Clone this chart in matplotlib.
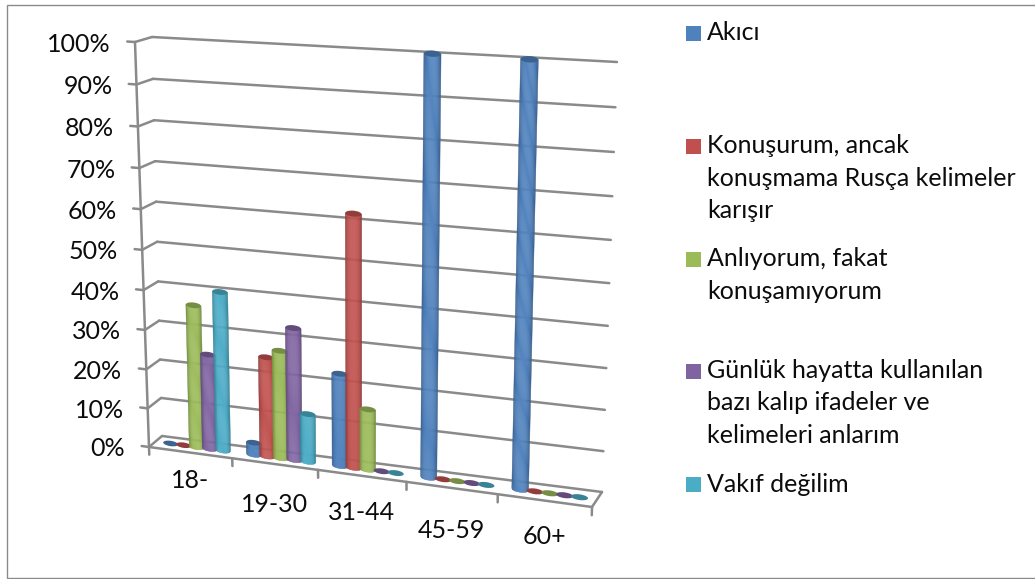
import numpy as np
from matplotlib import pyplot as plt
from matplotlib.patches import Ellipse, Polygon, Rectangle
from matplotlib.transforms import Transform

categories = ['18-', '19-30', '31-44', '45-59', '60+']
pct_ticks = [0, 10, 20, 30, 40, 50, 60, 70, 80, 90, 100]

akici = [0, 3, 23, 100, 100]
konusurum = [0, 25, 62, 0, 0]
anliyorum = [36, 27, 15, 0, 0]
gunluk = [24, 33, 0, 0, 0]
vakif = [40, 12, 0, 0, 0]

series_colors = ['#4F81BD', '#C0504D', '#9BBB59', '#8064A2', '#4BACC6']
series_labels = [
    'Akıcı',
    'Konuşurum, ancak\nkonuşmama Rusça kelimeler\nkarışır',
    'Anlıyorum, fakat\nkonuşamıyorum',
    'Günlük hayatta kullanılan\nbazı kalıp ifadeler ve\nkelimeleri anlarım',
    'Vakıf değilim',
]

GRID = '#8a8a8a'
TEXT = '#0c0c0c'
plt.rcParams['font.family'] = ['Lato', 'DejaVu Sans']


class PlaneTransform(Transform):
    """Homography from (category, percent) onto one plane of the 3d box."""
    input_dims = 2
    output_dims = 2
    is_separable = False
    has_inverse = False

    def __init__(self, bl, br, tl, tr):
        super().__init__()
        src = [(0, 0), (5, 0), (0, 100), (5, 100)]
        dst = [bl, br, tl, tr]
        a, b = [], []
        for (u, v), (x, y) in zip(src, dst):
            a.append([u, v, 1, 0, 0, 0, -u * x, -v * x])
            a.append([0, 0, 0, u, v, 1, -u * y, -v * y])
            b += [x, y]
        self.h = np.append(np.linalg.solve(np.array(a, float), np.array(b, float)), 1).reshape(3, 3)

    def transform_non_affine(self, values):
        pts = np.column_stack([values, np.ones(len(values))]) @ self.h.T
        return pts[:, :2] / pts[:, 2:]


def shade(color, k):
    rgb = np.array(plt.matplotlib.colors.to_rgb(color))
    if k <= 1:
        return tuple(rgb * k)
    return tuple(rgb + (1 - rgb) * (k - 1))


def draw_column(ax, plane, u, value, color, radius=0.09, squash=0.7, order=3):
    # vertical strips give the rounded look, closed by a darker lid
    edges = np.linspace(-1, 1, 17)
    if value > 0:
        for t0, t1 in zip(edges[:-1], edges[1:]):
            tm = (t0 + t1) / 2
            k = 1.03 - 0.3 * abs(tm) ** 3
            s0 = squash * np.sqrt(1 - t0 ** 2)
            s1 = squash * np.sqrt(1 - t1 ** 2)
            verts = [(u + t0 * radius, -s0), (u + t1 * radius, -s1),
                     (u + t1 * radius, value), (u + t0 * radius, value)]
            c = shade(color, k)
            ax.add_patch(Polygon(verts, closed=True, facecolor=c, edgecolor=c, lw=0.3,
                                 transform=plane + ax.transData, zorder=order))
    ax.add_patch(Ellipse((u, value), 2 * radius, 2 * squash, facecolor=shade(color, 0.76),
                         edgecolor='none', transform=plane + ax.transData, zorder=order + 0.01))


def main():
    fig = plt.figure(figsize=(10.35, 5.79), dpi=100)
    ax = fig.add_axes([0, 0, 1, 1])
    ax.set_xlim(0, 1035)
    ax.set_ylim(579, 0)
    ax.set_autoscale_on(False)
    ax.axis('off')

    ax.add_patch(Rectangle((7, 4.5), 1035, 573.5, facecolor='white', edgecolor=GRID, lw=1))

    back = PlaneTransform((162, 436), (602, 492), (152, 37), (617, 62))
    mid = PlaneTransform((155.5, 441.5), (597, 499.5), (144, 37), (611, 64))
    front = PlaneTransform((149, 447), (592, 507), (135, 42), (603, 71))
    line = dict(color=GRID, lw=1.8, solid_capstyle='round', zorder=2)

    n = len(categories)
    for pct in pct_ticks:
        ax.plot([0, n], [pct, pct], transform=back + ax.transData, **line)
        p0 = back.transform([(0, pct)])[0]
        p1 = front.transform([(0, pct)])[0]
        ax.plot([p0[0], p1[0]], [p0[1], p1[1]], **line)
        ax.plot([-0.09, 0], [pct, pct], transform=front + ax.transData, **line)
        ax.text(p1[0] - 24, p1[1] + 2, f'{pct}%', ha='right', va='center', fontsize=18, color=TEXT)

    ax.plot([0, 0], [0, 100], transform=front + ax.transData, **line)
    ax.plot([0, n], [0, 0], transform=front + ax.transData, **line)
    b = back.transform([(n, 0)])[0]
    f = front.transform([(n, 0)])[0]
    ax.plot([b[0], f[0]], [b[1], f[1]], **line)
    for i in range(n + 1):
        ax.plot([i, i], [-2, 0], transform=front + ax.transData, **line)

    all_series = [akici, konusurum, anliyorum, gunluk, vakif]
    for i in range(n):
        for j, (values, color) in enumerate(zip(all_series, series_colors)):
            draw_column(ax, mid, i + 0.5 + (j - 2) * 0.158, values[i], color, order=3 + 0.1 * j + i)

    # category labels drop unevenly below the slanted axis
    label_drop = [28, 40, 37, 42, 36]
    for i, cat in enumerate(categories):
        p = front.transform([(i + 0.5, 0)])[0]
        ax.text(p[0], p[1] + label_drop[i], cat, ha='center', va='center', fontsize=18, color=TEXT)

    # legend entries sit at uneven heights, one text block per series
    legend_y = [33, 146, 259, 371, 484]
    line_counts = [1, 3, 2, 3, 1]
    for y, label, color, count in zip(legend_y, series_labels, series_colors, line_counts):
        ax.add_patch(Rectangle((686, y - 7.5), 15, 15, facecolor=color, edgecolor='none'))
        ax.text(707, y + (count - 1) * 16, label, ha='left', va='center', fontsize=18,
                color=TEXT, linespacing=1.5)

    fig.savefig('out.png', dpi=100)


if __name__ == "__main__":
    main()
